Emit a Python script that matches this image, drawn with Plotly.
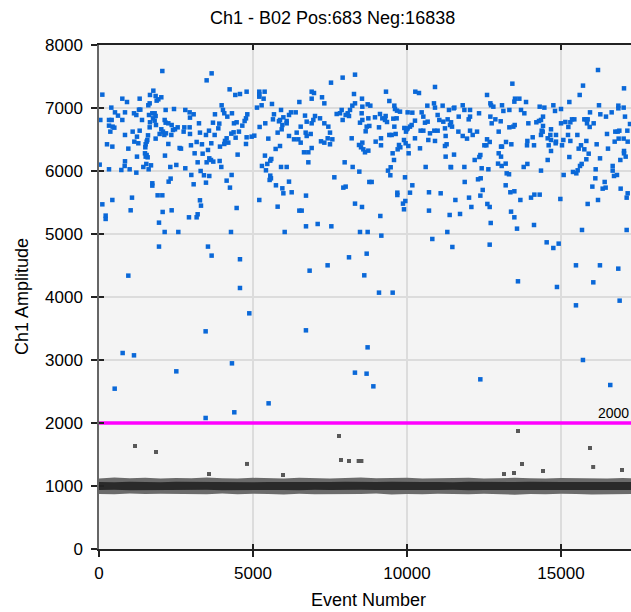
import plotly.graph_objects as go

# ---------------- data ----------------
title_text = "Ch1 - B02 Pos:683 Neg:16838"
x_title = "Event Number"
y_title = "Ch1 Amplitude"
threshold = 2000
x_ticks = [0, 5000, 10000, 15000]
x_tick_text = ["0", "5000", "10000", "15000"]
y_ticks = [0, 1000, 2000, 3000, 4000, 5000, 6000, 7000, 8000]
y_tick_text = ["0", "1000", "2000", "3000", "4000", "5000", "6000", "7000", "8000"]
x_max = 17273
y_max = 8000

# positive droplets (blue): event number / amplitude
pos_event = [
    2056,3657,3495,1764,108,1655,1839,2023,1926,1872,
    757,909,1320,1645,1601,4241,4425,4577,4793,5204,
    5204,5204,5378,5345,5616,5280,5129,3982,400,1298,
    1342,2164,2435,2802,2943,3073,2954,3765,4025,4068,
    4166,4317,4815,4772,4728,4653,4469,4382,5681,5648,
    5843,1136,1212,844,617,757,519,43,325,411,
    444,325,498,368,1731,1807,1839,1623,1753,1396,
    1807,1655,2132,2164,2251,2359,1850,1645,2554,2467,
    2402,2770,2943,2748,2954,3246,3700,3906,3874,3571,
    3278,3473,3755,4296,4371,4436,4544,4144,4090,4793,
    4956,5042,5215,5399,5497,5800,1093,1320,844,1233,
    1591,1969,2023,2077,2121,2175,2348,1839,1547,1515,
    1569,1147,1277,260,433,952,1504,1493,1547,1580,
    1515,2618,2662,2251,2986,3170,3343,3646,3538,3365,
    3105,3928,4068,4198,4772,4501,3917,3636,3711,3581,
    3495,3203,2142,1233,844,833,995,725,325,22,
    1439,1536,1688,1612,1212,2315,2510,2802,3971,5388,
    5594,5561,5464,5291,5421,5735,2997,3300,3408,3581,
    4306,4144,4252,3473,3073,2261,2326,1731,1731,1904,
    2056,1071,433,108,216,216,1028,2067,2359,3311,
    3278,3203,3170,2921,1948,2132,2575,4285,4469,5204,
    5800,5561,5583,5540,5745,1948,3538,3657,4577,
    8312,7911,7533,6905,6981,7241,6905,7316,6505,8279,
    8539,8312,8225,8550,8723,8810,9318,9426,9589,9610,
    9675,9773,10270,10389,10909,10660,10876,10909,11157,11363,
    5910,6386,6234,6169,5986,5877,6094,6094,5953,5931,
    5877,6169,6332,6418,6472,6548,6548,6689,6743,6710,
    6743,6873,6905,6959,7013,7176,7316,7446,7500,7425,
    7208,7316,7500,7576,6905,6797,6656,6797,5910,6094,
    7717,7825,7879,8009,7911,8074,8150,8117,8204,8528,
    8474,8550,8658,8691,8777,8745,8961,8983,9123,9091,
    9156,9156,9199,9307,9286,9351,9556,9589,9664,9632,
    9502,9426,9740,9783,9697,9534,9578,9470,9383,9459,
    8442,8507,8582,8636,8745,8550,8452,7976,8236,9913,
    9989,9967,10021,10097,10151,10259,10173,10021,10476,10530,
    10584,10671,10443,10530,10746,10887,10995,11049,10995,11179,
    11233,11320,11396,11255,10909,10692,10422,10259,9902,9956,
    10043,10054,11233,11287,11255,10606,11417,9935,7641,8777,
    8853,8009,7933,5953,5986,6256,6169,6721,6505,6581,
    9686,9686,10097,10173,10714,11093,9946,9870,9902,10714,
    11385,8312,8539,9134,6721,7100,7544,6029,8474,8723,
    9167,10822,11309,8117,8691,
    16202,13421,15715,17046,12599,15607,13507,13486,13648,13865,
    12707,12728,13085,12804,15271,16234,16862,16862,17035,11809,
    11517,11538,11863,12047,12339,13129,13324,13702,13810,14308,
    14460,14752,14806,15001,15942,16277,16461,16645,17078,11679,
    12047,12003,11430,11462,11668,11809,11949,12047,12133,12274,
    12707,12869,12750,13042,12977,13324,13453,13497,13940,14200,
    14286,14351,14416,14416,14373,14351,14406,14081,13908,13897,
    14124,14676,14654,14568,14676,14600,14838,14838,14827,15001,
    15033,15076,15141,15304,15358,15433,15239,15228,15304,15531,
    15574,15650,15758,15823,15899,15823,15758,15812,15866,15845,
    15931,16061,16158,16267,16526,16494,16743,16764,16840,16894,
    16872,17035,17154,17165,17240,17046,17046,16927,17100,12599,
    12686,12512,12577,13053,13085,13215,13388,14676,14568,12977,
    13053,12382,12350,12198,11527,11430,11863,12425,12642,12956,
    13074,13204,13789,13908,14351,15271,16126,16678,16678,16721,
    16818,16115,15542,15498,15617,15671,15390,15087,13237,13313,
    12306,12393,11874,13204,13356,13486,12458,12382,12014,11571,
    13681,14027,14135,14308,14979,16018,16353,16450,16418,16937,
    17165,17132,16202,15866,12609,12685,12090,11722,13378,13486,
    12718,13572,14124,15682,17132,11473,12685,14535,14751,14925,
    952,4577,4880,3462,768,1136,6838,7423,8613,6719,
    8721,4317,2510,509,5507,4393,3462,8310,8688,9091,
    9535,8908,13603,14869,15486,16265,16860,16049,15486,16904,
    15713,12381,16600,
]
pos_amp = [
    7587,7550,7439,7275,7212,7207,7191,7170,7138,7117,
    7148,7095,7148,7074,7043,7296,7207,7222,7259,7259,
    7217,7180,7259,7148,7064,7043,7006,7043,7006,6974,
    6974,6969,6984,6969,6931,6900,6847,6900,6969,6916,
    6863,6916,6900,6836,6794,6720,6773,6757,6900,6820,
    6789,6916,6889,6931,6879,6810,6931,6810,6810,6810,
    6704,6720,6688,6625,6916,6916,6873,6889,6836,6810,
    6799,6773,6810,6767,6757,6730,6730,6693,6693,6662,
    6651,6693,6693,6625,6588,6757,6767,6752,6677,6640,
    6609,6572,6572,6593,6614,6529,6625,6519,6477,6535,
    6545,6561,6699,6757,6514,6609,6625,6640,6572,6545,
    6566,6588,6662,6625,6572,6598,6572,6514,6466,6424,
    6492,6466,6440,6424,6387,6355,6376,6281,6254,6217,
    6228,6365,6355,6429,6408,6461,6424,6440,6334,6275,
    6281,6387,6429,6450,6429,6260,6159,6175,6149,6201,
    6138,6138,6244,6228,6154,6080,6027,6016,6027,6101,
    6064,6112,6090,6027,5974,6064,6096,6043,6064,6244,
    6191,6164,6112,6080,6011,6350,5937,6000,5932,5921,
    5937,5847,5736,5815,5789,5831,5879,5805,5768,5614,
    5614,5577,5540,5471,5292,5239,5376,5350,5376,5450,
    5535,5313,5265,5265,5180,5032,5032,5032,5413,5540,
    5434,5926,5884,5858,5773,4800,4800,4657,4599,
    7529,7482,7402,7259,7238,7170,7148,7074,7095,7222,
    7148,7074,7037,7021,7058,7037,7259,7111,7037,6984,
    6958,6942,7259,7238,7334,7037,7074,7006,7037,6969,
    6969,6931,6931,6889,6852,6810,6794,6757,6730,6662,
    6397,6556,6503,6609,6503,6450,6704,6879,6783,6609,
    6556,6588,6757,6810,6873,6836,6757,6704,6609,6519,
    6471,6450,6424,6503,6365,6297,6297,6138,6064,6064,
    6905,6916,6969,6889,6810,6916,6969,6873,6519,6916,
    6767,6810,6630,6704,6715,6836,6852,6466,6905,6693,
    6519,6408,6836,6873,6810,6778,6831,6704,6836,6588,
    6572,6572,6413,6376,6344,6281,6175,6059,6006,5932,
    6413,6376,6344,6297,6323,6450,5990,6138,6064,6683,
    6662,6625,6677,6704,6730,6799,6926,6931,6931,6863,
    6767,6783,6640,6640,6598,6640,6640,6810,6889,6783,
    6677,6820,6730,6556,6477,6492,6360,6519,6492,6440,
    6397,6281,6397,6424,6228,6064,6064,5900,5900,5826,
    5826,5752,5736,5725,5646,5662,5831,5609,5371,5371,
    5656,5619,5656,5773,5662,5646,5524,5482,5392,5371,
    5302,5482,5429,5286,5122,5159,5122,5032,5032,5032,
    4974,4921,5032,4630,4688,
    7603,7386,7355,7312,7207,7207,7148,7101,7148,7095,
    7074,7043,7043,7021,7095,7043,7037,6995,7006,7043,
    6995,7006,6969,6969,6916,6953,6969,6969,6916,7021,
    7006,7043,6953,6984,6931,6900,6863,6931,6863,6863,
    6863,6820,6773,6704,6625,6556,6514,6640,6572,6625,
    6863,6820,6757,6789,6625,6693,6704,6730,6757,6773,
    6794,6810,6863,6715,6640,6572,6625,6535,6477,6408,
    6408,6662,6572,6519,6492,6408,6572,6466,6440,6757,
    6408,6492,6778,6773,6820,6820,6699,6572,6477,6572,
    6355,6408,6344,6477,6275,6186,6820,6820,6820,6757,
    6699,6757,6424,6201,6355,6588,6466,6625,6625,6640,
    6514,6514,6640,6466,6746,6318,6281,6175,6228,6503,
    6461,6408,6408,6387,6387,6461,6424,6318,6175,6281,
    6228,6254,6222,6175,6260,6059,6064,6043,6027,6117,
    6080,6117,6064,6112,6006,6222,6027,6080,6006,5921,
    5937,5884,6011,5963,6080,6112,5985,5937,5963,5948,
    5868,5884,5826,5773,5662,5678,5699,5609,5577,5540,
    5540,5577,5625,5625,5556,5752,5720,5736,5826,5720,
    5646,5577,5540,5477,5477,5429,5429,5318,5355,5265,
    5175,5085,5143,5064,5064,4794,4831,4868,4778,4847,
    4339,4143,3741,3455,3111,3074,4418,4503,4344,3471,
    3201,2947,2820,2545,2312,2170,2080,2799,2783,4069,
    4069,2582,4249,4159,4503,4503,4450,4233,3868,3942,
    3000,2693,2603,
]

# negative droplets that lie outside the dense band (grey)
neg_out_event = [1169,1851,3571,4805,5974,7792,7857,8117,8430,8520,
                 13149,13474,13604,13734,14416,15941,16045,16980]
neg_out_amp = [1635,1540,1190,1350,1175,1794,1413,1397,1397,1397,
               1190,1206,1873,1349,1238,1603,1302,1254]

# dense negative band (outer spread and dense core), sampled along event axis
band_event = [0,500,1000,1500,2000,2500,3000,3500,4000,4500,5000,5500,
              6000,6500,7000,7500,8000,8500,9000,9500,10000,10500,11000,11500,
              12000,12500,13000,13500,14000,14500,15000,15500,16000,16500,17000,17500]
band_outer_hi = [1120,1135,1125,1130,1118,1128,1122,1135,1125,1120,1130,1126,
                 1118,1132,1124,1120,1128,1135,1122,1126,1130,1118,1124,1128,
                 1132,1120,1125,1130,1122,1118,1128,1124,1130,1120,1126,1122]
band_outer_lo = [875,868,880,872,878,866,874,870,880,868,876,872,
                 865,878,870,874,868,872,880,866,874,870,878,872,
                 868,876,870,862,874,868,878,872,866,874,870,876]
band_core_hi = [1065,1060,1068,1062,1058,1066,1063,1060,1067,1064,1059,1065,
                1062,1068,1060,1064,1066,1061,1063,1067,1060,1065,1062,1058,
                1066,1063,1060,1064,1067,1061,1065,1062,1060,1066,1063,1064]
band_core_lo = [935,940,932,938,942,934,937,940,933,936,941,935,
                938,932,940,936,934,939,937,933,940,935,938,942,
                934,937,940,936,933,939,935,938,940,934,937,936]

assert len(pos_event) == len(pos_amp)

FONT = "Liberation Sans, Arial, sans-serif"

fig = go.Figure()

fig.add_trace(go.Scatter(
    x=band_event + band_event[::-1], y=band_outer_hi + band_outer_lo[::-1],
    fill="toself", mode="lines", line=dict(width=0), fillcolor="#6b6b6b",
    hoverinfo="skip", showlegend=False))
fig.add_trace(go.Scatter(
    x=band_event + band_event[::-1], y=band_core_hi + band_core_lo[::-1],
    fill="toself", mode="lines", line=dict(width=0), fillcolor="#2a2a2a",
    hoverinfo="skip", showlegend=False))
fig.add_trace(go.Scatter(
    x=neg_out_event, y=neg_out_amp, mode="markers",
    marker=dict(symbol="square", size=4, color="#585858"),
    showlegend=False))
fig.add_trace(go.Scatter(
    x=pos_event, y=pos_amp, mode="markers",
    marker=dict(symbol="square", size=4.5, color="#0a68d8"),
    showlegend=False))
fig.add_trace(go.Scatter(
    x=[0, x_max + 500], y=[threshold, threshold], mode="lines",
    line=dict(color="#ff00ff", width=3.5), showlegend=False, hoverinfo="skip"))
# dummy trace for overlay axes (crossing tick marks)
fig.add_trace(go.Scatter(x=[], y=[], xaxis="x2", yaxis="y2", showlegend=False))

axis_font = dict(family=FONT, size=17, color="#000")

fig.update_layout(
    width=631, height=612,
    margin=dict(l=99, r=0, t=45, b=63),
    paper_bgcolor="white", plot_bgcolor="#f4f4f4",
    showlegend=False,
    xaxis=dict(range=[0, x_max], tickvals=x_ticks, ticktext=x_tick_text, showgrid=True,
               gridcolor="#dcdcdc", gridwidth=2, zeroline=False,
               showline=True, linecolor="#222", linewidth=1.5, mirror=True,
               ticks="outside", ticklen=6, tickcolor="#222", tickwidth=1.5,
               ticklabelstandoff=2, tickfont=axis_font),
    yaxis=dict(range=[0, y_max], tickvals=y_ticks, ticktext=y_tick_text, showgrid=True,
               gridcolor="#dcdcdc", gridwidth=2, zeroline=False,
               showline=True, linecolor="#666", linewidth=1.5,
               ticks="outside", ticklen=6, tickcolor="#222", tickwidth=1.5,
               ticklabelstandoff=5, tickfont=axis_font),
    xaxis2=dict(range=[0, x_max], tickvals=x_ticks, overlaying="x", anchor="y",
                side="bottom", showgrid=False, zeroline=False, showline=False,
                ticks="inside", ticklen=5, tickcolor="#222", tickwidth=1.5,
                mirror="ticks", showticklabels=False),
    yaxis2=dict(range=[0, y_max], tickvals=y_ticks, overlaying="y", anchor="x",
                side="left", showgrid=False, zeroline=False, showline=False,
                ticks="inside", ticklen=5, tickcolor="#222", tickwidth=1.5,
                showticklabels=False),
)

fig.add_annotation(text=title_text, xref="paper", yref="paper",
                   x=(332 - 99) / 532, y=1 + 27 / 504, xanchor="center", yanchor="middle",
                   showarrow=False, font=dict(family=FONT, size=18, color="#000"))
fig.add_annotation(text=x_title, xref="paper", yref="paper",
                   x=0.506, y=-51 / 504, xanchor="center", yanchor="middle",
                   showarrow=False, font=dict(family=FONT, size=18, color="#000"))
fig.add_annotation(text=y_title, xref="paper", yref="paper",
                   x=-77 / 532, y=0.5, xanchor="center", yanchor="middle", textangle=-90,
                   showarrow=False, font=dict(family=FONT, size=18, color="#000"))
fig.add_annotation(text=str(threshold), xref="x", yref="y",
                   x=x_max, y=threshold, xanchor="right", yanchor="bottom",
                   showarrow=False, font=dict(family=FONT, size=14, color="#000"))

fig.write_html("out.html")
